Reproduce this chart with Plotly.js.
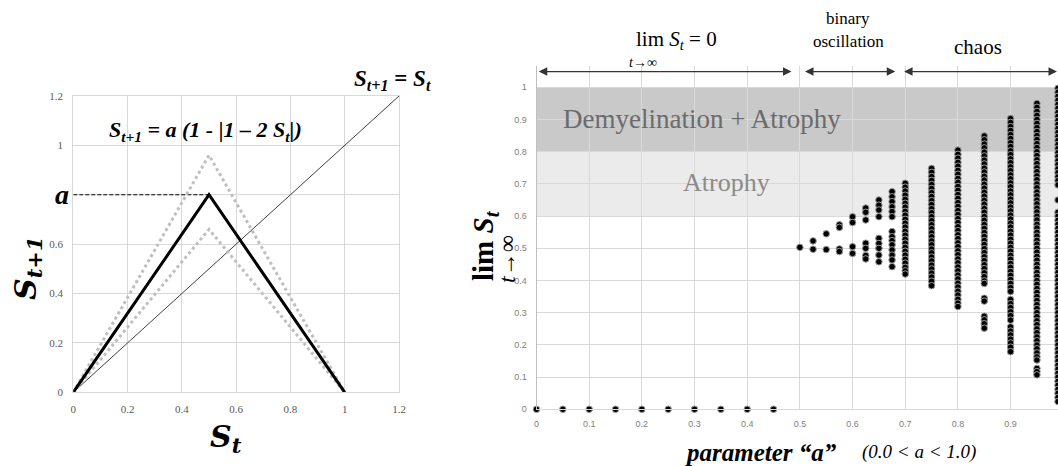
<!DOCTYPE html>
<html>
<head>
<meta charset="utf-8">
<script src="https://cdn.plot.ly/plotly-3.0.1.min.js"></script>
<style>
html,body{margin:0;padding:0;overflow:hidden;background:#fff;}
#chart{width:1058px;height:466px;}
</style>
</head>
<body>
<div id="chart"></div>
<script>
// ---------- Left panel data (tent map S_{t+1} = a(1-|1-2S_t|)) ----------
const tentX = [0, 0.5, 1];
const tentMain = [0, 0.8, 0];      // a = 0.8
const tentHigh = [0, 0.96, 0];     // dotted, higher a
const tentLow = [0, 0.66, 0];      // dotted, lower a
const diagX = [0, 1.2];
const diagY = [0, 1.2];
const aLevelX = [0, 0.5];
const aLevelY = [0.8, 0.8];
const leftTickVals = [0, 0.2, 0.4, 0.6, 0.8, 1, 1.2];
const leftYTickText = ["0", "0.2", "0.4", "0.6", "", "1", "1.2"];

// ---------- Right panel data (bifurcation diagram) ----------
const zeroA = [0, 0.05, 0.1, 0.15, 0.2, 0.25, 0.3, 0.35, 0.4, 0.45];
const zeroS = [0, 0, 0, 0, 0, 0, 0, 0, 0, 0];

const s050 = [0.503];
const s0525 = [0.523, 0.497];
const s055 = [0.545, 0.496];
const s0575 = [0.573, 0.565, 0.498, 0.490];
const s060 = [0.598, 0.580, 0.505, 0.484];
const s0625 = [0.625, 0.612, 0.588, 0.516, 0.500, 0.478, 0.467];
const s065 = [0.650, 0.634, 0.619, 0.598, 0.531, 0.515, 0.500, 0.479, 0.458];
const s0675 = [0.676, 0.660, 0.645, 0.629, 0.614, 0.598, 0.552, 0.536, 0.524, 0.511, 0.495, 0.479, 0.464, 0.443];
const s070 = [0.702, 0.690, 0.678, 0.665, 0.652, 0.640, 0.628, 0.615, 0.603, 0.590, 0.578, 0.566, 0.553, 0.541, 0.528, 0.516, 0.503, 0.491, 0.479, 0.466, 0.454, 0.441, 0.430, 0.420];
const s075 = [0.748, 0.736, 0.723, 0.711, 0.698, 0.686, 0.673, 0.661, 0.648, 0.636, 0.623, 0.611, 0.598, 0.586, 0.573, 0.561, 0.548, 0.536, 0.523, 0.511, 0.498, 0.486, 0.473, 0.461, 0.448, 0.436, 0.423, 0.411, 0.398, 0.384];
const s080 = [0.805, 0.792, 0.780, 0.767, 0.755, 0.742, 0.730, 0.717, 0.705, 0.692, 0.680, 0.667, 0.655, 0.642, 0.630, 0.617, 0.605, 0.592, 0.580, 0.567, 0.555, 0.542, 0.530, 0.517, 0.505, 0.492, 0.480, 0.467, 0.455, 0.442, 0.430, 0.417, 0.405, 0.392, 0.380, 0.367, 0.355, 0.342, 0.330, 0.319];
const s085 = [0.849, 0.837, 0.824, 0.812, 0.799, 0.787, 0.774, 0.762, 0.749, 0.737, 0.724, 0.712, 0.699, 0.687, 0.674, 0.662, 0.649, 0.637, 0.624, 0.612, 0.599, 0.587, 0.574, 0.562, 0.549, 0.537, 0.524, 0.512, 0.499, 0.487, 0.474, 0.462, 0.449, 0.437, 0.424, 0.412, 0.399, 0.391, 0.345, 0.336, 0.289, 0.278, 0.266, 0.252];
const s090 = [0.903, 0.891, 0.878, 0.866, 0.853, 0.841, 0.828, 0.816, 0.803, 0.791, 0.778, 0.766, 0.753, 0.741, 0.728, 0.716, 0.703, 0.691, 0.678, 0.666, 0.653, 0.641, 0.628, 0.616, 0.603, 0.591, 0.578, 0.566, 0.553, 0.541, 0.528, 0.516, 0.503, 0.491, 0.478, 0.466, 0.453, 0.441, 0.428, 0.416, 0.403, 0.391, 0.378, 0.366, 0.341, 0.328, 0.316, 0.303, 0.291, 0.277, 0.256, 0.243, 0.231, 0.218, 0.206, 0.193, 0.179];
const s095 = [0.950, 0.938, 0.925, 0.913, 0.900, 0.888, 0.875, 0.863, 0.850, 0.838, 0.825, 0.813, 0.800, 0.788, 0.775, 0.763, 0.750, 0.738, 0.725, 0.713, 0.700, 0.688, 0.675, 0.663, 0.650, 0.638, 0.625, 0.613, 0.600, 0.588, 0.575, 0.563, 0.550, 0.538, 0.525, 0.513, 0.500, 0.488, 0.475, 0.463, 0.450, 0.438, 0.425, 0.413, 0.400, 0.388, 0.375, 0.363, 0.350, 0.338, 0.325, 0.313, 0.300, 0.288, 0.275, 0.263, 0.250, 0.238, 0.225, 0.213, 0.200, 0.188, 0.175, 0.163, 0.153, 0.127, 0.117, 0.107];
const s099 = [0.997, 0.985, 0.972, 0.960, 0.947, 0.935, 0.922, 0.910, 0.897, 0.885, 0.872, 0.860, 0.847, 0.835, 0.822, 0.810, 0.797, 0.785, 0.772, 0.760, 0.747, 0.735, 0.722, 0.710, 0.697, 0.650, 0.612, 0.600, 0.587, 0.575, 0.562, 0.550, 0.537, 0.525, 0.512, 0.500, 0.487, 0.475, 0.462, 0.450, 0.437, 0.425, 0.412, 0.400, 0.387, 0.375, 0.362, 0.350, 0.337, 0.325, 0.312, 0.300, 0.287, 0.275, 0.262, 0.250, 0.237, 0.225, 0.212, 0.200, 0.187, 0.175, 0.162, 0.150, 0.137, 0.125, 0.112, 0.100, 0.087, 0.075, 0.062, 0.050, 0.037, 0.024];

const orbitA = [0.5, 0.525, 0.55, 0.575, 0.6, 0.625, 0.65, 0.675, 0.7, 0.75, 0.8, 0.85, 0.9, 0.95, 0.99];
const orbitS = [s050, s0525, s055, s0575, s060, s0625, s065, s0675, s070, s075, s080, s085, s090, s095, s099];

const rightTickVals = [0, 0.1, 0.2, 0.3, 0.4, 0.5, 0.6, 0.7, 0.8, 0.9, 1];

// flatten bifurcation points
const bifX = [], bifY = [];
zeroA.forEach((a, i) => { bifX.push(a); bifY.push(zeroS[i]); });
orbitA.forEach((a, i) => { orbitS[i].forEach(s => { bifX.push(a); bifY.push(s); }); });

// ---------- geometry helpers (page pixels -> paper) ----------
const W = 1058, H = 466;
const px = v => v / W;
const py = v => 1 - v / H;

const SERIF = '"Liberation Serif", "Times New Roman", serif';
const MATH = '"DejaVu Serif", serif';
const SANS = '"Liberation Sans", Arial, sans-serif';

const traces = [
  { x: diagX, y: diagY, xaxis: 'x', yaxis: 'y', mode: 'lines', line: { color: '#404040', width: 1 }, hoverinfo: 'skip' },
  { x: aLevelX, y: aLevelY, xaxis: 'x', yaxis: 'y', mode: 'lines', line: { color: '#000', width: 1, dash: '4px,2px' }, hoverinfo: 'skip' },
  { x: tentX, y: tentHigh, xaxis: 'x', yaxis: 'y', mode: 'lines', line: { color: '#bfbfbf', width: 3, dash: 'dot' }, hoverinfo: 'skip' },
  { x: tentX, y: tentLow, xaxis: 'x', yaxis: 'y', mode: 'lines', line: { color: '#bfbfbf', width: 3, dash: 'dot' }, hoverinfo: 'skip' },
  { x: tentX, y: tentMain, xaxis: 'x', yaxis: 'y', mode: 'lines', line: { color: '#000', width: 3 }, hoverinfo: 'skip' },
  { x: bifX, y: bifY, xaxis: 'x2', yaxis: 'y2', mode: 'markers', cliponaxis: false,
    marker: { color: '#000', size: 6.5, line: { color: '#999', width: 1 } }, hoverinfo: 'skip' }
];

const ann = [];
function T(text, x, y, size, opts) {
  ann.push(Object.assign({ text: text, x: px(x), y: py(y), xref: 'paper', yref: 'paper', showarrow: false,
    xanchor: 'center', yanchor: 'middle', font: { family: SERIF, size: size, color: '#000' } }, opts || {}));
}
// left panel texts
T('<b><i>S</i><sub><i>t+1</i></sub><i> = a (1 - |1 – 2 S</i><sub><i>t</i></sub><i>|)</i></b>', 205, 131, 22);
T('<b><i>S</i><sub><i>t+1</i></sub> = <i>S</i><sub><i>t</i></sub></b>', 392, 80, 23);
T('<b><i>a</i></b>', 62, 194, 28);
T('<b><i>S</i><sub><i>t</i></sub></b>', 226, 438, 30, { font: { family: MATH, size: 30, color: '#000' } });
T('<b><i>S</i><sub><i>t+1</i></sub></b>', 27, 268, 30, { textangle: -90, font: { family: MATH, size: 30, color: '#000' } });

// right panel texts
T('Demyelination + Atrophy', 702, 119, 27, { font: { family: SERIF, size: 27, color: '#6b6b6b' } });
T('Atrophy', 726, 182, 26, { font: { family: SERIF, size: 26, color: '#8a8a8a' } });
T('lim <i>S</i><sub><i>t</i></sub> = 0', 676, 40, 21);
T('<i>t</i>→∞', 643, 62, 14, { font: { family: SERIF, size: 14, color: '#000' } });
T('binary', 848, 18, 17);
T('oscillation', 848, 41, 17);
T('chaos', 978, 47, 21);
T('<b><i>parameter “a”</i></b>', 761, 452, 25);
T('<i>(0.0 &lt; a &lt; 1.0)</i>', 919, 452, 19);
T('<b>lim <i>S</i><sub><i>t</i></sub></b>', 485, 246, 29, { textangle: -90 });
T('<i>t</i>→∞', 507, 259, 24, { textangle: -90, font: { family: SERIF, size: 24, color: '#000' } });

// range arrows above right panel
function arrow(x0, x1) {
  ann.push({ xref: 'x2', yref: 'y2', axref: 'x2', ayref: 'y2', x: x1, y: 1.049, ax: x0, ay: 1.049, text: '',
    showarrow: true, arrowside: 'end+start', arrowhead: 2, arrowsize: 1.3, arrowwidth: 1.3, arrowcolor: '#333',
    standoff: 0, startstandoff: 0 });
}
arrow(0.0015, 0.484);
arrow(0.507, 0.681);
arrow(0.695, 0.988);

const layout = {
  width: W, height: H,
  margin: { l: 0, r: 0, t: 0, b: 0 },
  paper_bgcolor: '#fff', plot_bgcolor: 'rgba(0,0,0,0)',
  showlegend: false,
  xaxis: { domain: [px(73.3), px(399)], range: [0, 1.2], tickvals: leftTickVals, anchor: 'y',
    showgrid: true, gridcolor: '#d9d9d9', gridwidth: 1, zeroline: false, showline: true, linecolor: '#d9d9d9', mirror: true,
    ticks: '', ticklabelstandoff: 6, tickfont: { family: SERIF, size: 11, color: '#595959' }, fixedrange: true },
  yaxis: { domain: [py(392.3), py(96)], range: [0, 1.2], tickvals: leftTickVals, ticktext: leftYTickText, anchor: 'x',
    showgrid: true, gridcolor: '#d9d9d9', gridwidth: 1, zeroline: false, showline: true, linecolor: '#d9d9d9', mirror: true,
    ticks: '', ticklabelstandoff: 7, tickfont: { family: SERIF, size: 11, color: '#595959' }, fixedrange: true },
  xaxis2: { domain: [px(536.5), 1], range: [0, 0.99], dtick: 0.1, tick0: 0, anchor: 'y2',
    showgrid: true, gridcolor: '#d9d9d9', gridwidth: 1, zeroline: false, showline: true, linecolor: '#d9d9d9',
    ticks: '', ticklabelstandoff: 6, tickfont: { family: SANS, size: 9, color: '#7f7f7f' }, fixedrange: true },
  yaxis2: { domain: [py(409.3), py(66.4)], range: [0, 1.065], tickvals: rightTickVals, anchor: 'x2',
    showgrid: true, gridcolor: '#d9d9d9', gridwidth: 1, zeroline: false, showline: true, linecolor: '#bfbfbf',
    ticks: '', ticklabelstandoff: 7, tickfont: { family: SANS, size: 9, color: '#7f7f7f' }, fixedrange: true },
  shapes: [
    { type: 'rect', xref: 'x2 domain', yref: 'y2', x0: 0, x1: 1, y0: 0.8, y1: 1.0, fillcolor: '#c9c9c9', line: { width: 0 }, layer: 'below' },
    { type: 'rect', xref: 'x2 domain', yref: 'y2', x0: 0, x1: 1, y0: 0.6, y1: 0.8, fillcolor: '#ebebeb', line: { width: 0 }, layer: 'below' }
  ],
  annotations: ann
};

Plotly.newPlot('chart', traces, layout, { staticPlot: true, displayModeBar: false });
</script>
</body>
</html>
